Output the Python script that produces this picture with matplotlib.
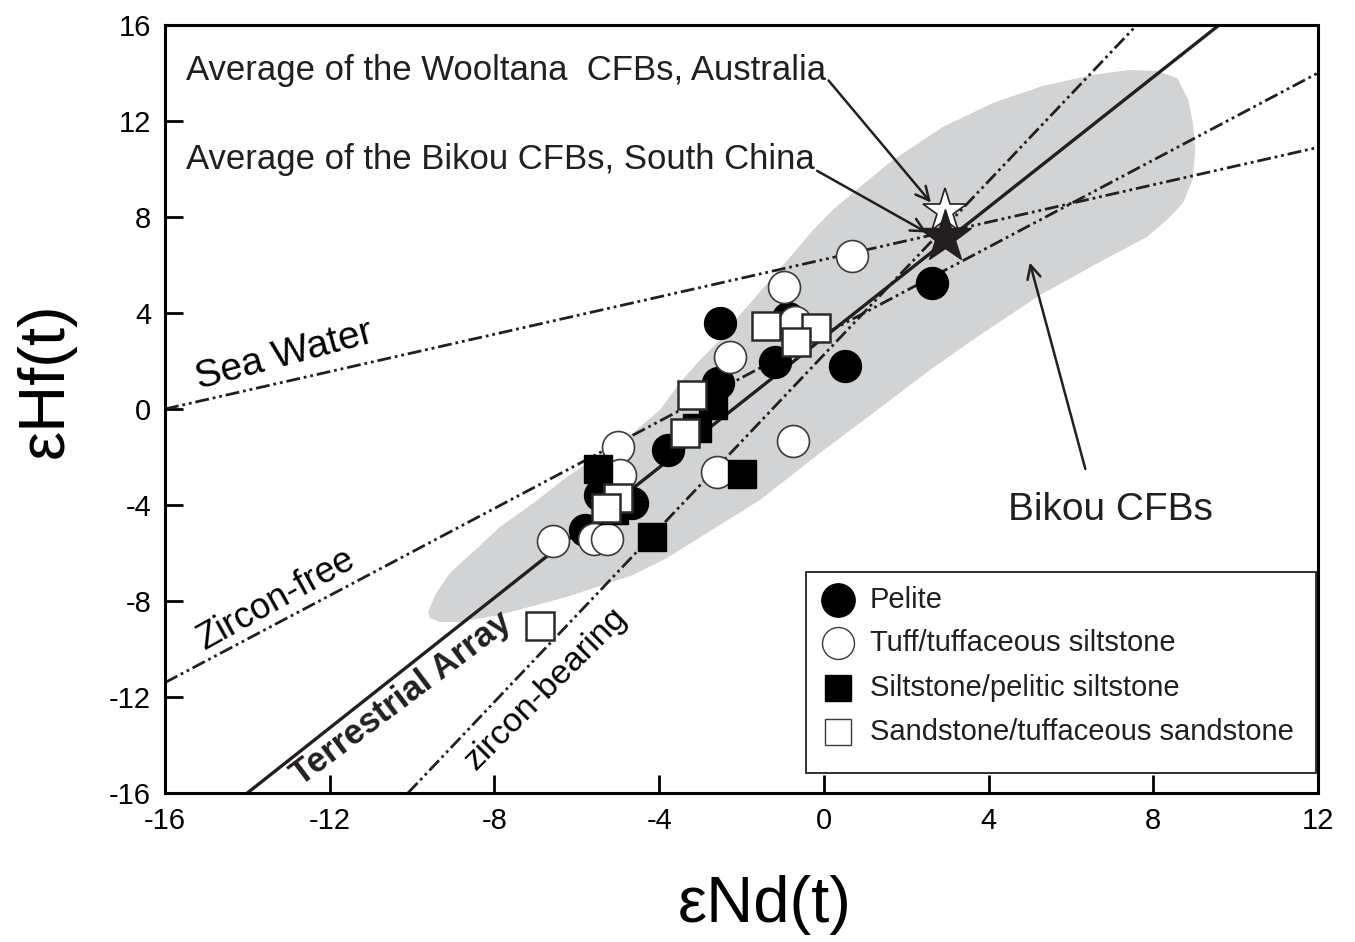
import matplotlib
matplotlib.use("Agg")
import matplotlib.pyplot as plt
from matplotlib.patches import Polygon, Rectangle

plt.rcParams["font.family"] = ["Liberation Sans", "DejaVu Sans"]
plt.rcParams["axes.unicode_minus"] = False

# ---- sample data: eNd(t), eHf(t) ----
pelite_nd = [2.63, 0.51, -2.52, -0.87, -1.19, -2.57, -3.78, -5.44, -4.66, -5.80]
pelite_hf = [5.25, 1.79, 3.58, 3.79, 1.96, 1.08, -1.71, -3.58, -3.92, -5.04]

tuff_nd = [0.68, -0.97, -0.70, -2.28, -0.75, -2.59, -5.00, -4.95, -6.58, -5.58, -5.26]
tuff_hf = [6.38, 5.08, 3.63, 2.17, -1.33, -2.62, -1.58, -2.75, -5.50, -5.42, -5.42]

silt_nd = [-2.69, -3.08, -5.48, -5.09, -4.17, -1.99]
silt_hf = [0.17, -0.79, -2.50, -4.21, -5.33, -2.71]

sand_nd = [-1.41, -0.19, -0.68, -3.20, -3.37, -5.00, -5.29, -6.89]
sand_hf = [3.46, 3.38, 2.79, 0.58, -1.00, -3.71, -4.13, -9.04]

# reference averages
wooltana_avg = (2.94, 8.25)
bikou_avg = (2.95, 7.15)

# reference arrays (end points)
sea_water_x, sea_water_y = [-16, 12], [0, 10.9]
zircon_free_x, zircon_free_y = [-16, 12], [-11.4, 14.0]
terrestrial_x, terrestrial_y = [-14.0, 9.6], [-16, 16]
zircon_bearing_x, zircon_bearing_y = [-10.1, 7.6], [-16, 16]

# Bikou CFBs field outline
field_nd = [-9.61, -9.44, -9.08, -8.47, -7.87, -7.02, -6.24, -5.44, -4.64, -3.98,
            -3.50, -3.01, -2.45, -2.04, -1.72, -1.31, -0.82, -0.26, 0.27, 0.88,
            1.68, 2.89, 4.11, 5.32, 6.53, 7.43, 8.09, 8.58, 8.85, 8.97,
            9.02, 8.95, 8.72, 8.33, 7.85, 6.71, 5.25, 3.79, 2.58, 1.36,
            -0.09, -1.55, -2.84, -3.81, -4.64, -6.24, -7.87, -8.84, -9.32, -9.57]
field_hf = [-8.46, -7.75, -6.83, -5.88, -4.92, -3.88, -2.83, -1.92, -1.00, -0.04,
            1.08, 2.04, 3.00, 3.92, 4.54, 5.38, 6.33, 7.46, 8.38, 9.25,
            10.38, 11.75, 12.75, 13.46, 13.92, 14.13, 14.08, 13.79, 12.88, 11.83,
            10.79, 9.54, 8.58, 7.88, 7.17, 6.13, 4.75, 3.08, 1.63, 0.04,
            -1.83, -3.79, -5.17, -6.21, -6.92, -7.83, -8.58, -8.88, -8.88, -8.71]

x_ticks = list(range(-16, 13, 4))
y_ticks = list(range(-16, 17, 4))

fig = plt.figure(figsize=(13.55, 9.42), dpi=100)
ax = fig.add_axes([0.1218, 0.1582, 0.8509, 0.8153])

ax.add_patch(Polygon(list(zip(field_nd, field_hf)), closed=True,
                     facecolor="#d2d3d5", edgecolor="none", zorder=1))

ddot = (5, 1.4, 1, 1.4, 1, 1.4)
for xs, ys in [(sea_water_x, sea_water_y), (zircon_free_x, zircon_free_y),
               (zircon_bearing_x, zircon_bearing_y)]:
    ax.plot(xs, ys, color="#231f20", lw=2.0, dashes=ddot, zorder=2)
ax.plot(terrestrial_x, terrestrial_y, color="#231f20", lw=2.4, zorder=2)

ax.plot(pelite_nd, pelite_hf, "o", ms=23, mfc="black", mec="black", mew=1, zorder=3)
ax.plot(tuff_nd, tuff_hf, "o", ms=23, mfc="white", mec="#3a3a3a", mew=1.2, zorder=4)
ax.plot(silt_nd, silt_hf, "s", ms=20, mfc="black", mec="black", mew=1, zorder=5)
ax.plot(sand_nd, sand_hf, "s", ms=19.5, mfc="white", mec="#2a2a2a", mew=1.8, zorder=6)

ax.plot(*wooltana_avg, "*", ms=33, mfc="white", mec="#231f20", mew=1.2, zorder=7)
ax.plot(*bikou_avg, "*", ms=40, mfc="#231f20", mec="#231f20", zorder=8)

# line labels
ax.text(-13.1, 2.2, "Sea Water", fontsize=28, rotation=15,
        ha="center", va="center", rotation_mode="anchor", zorder=9)
ax.text(-13.3, -7.95, "Zircon-free", fontsize=26, rotation=29,
        ha="center", va="center", rotation_mode="anchor", zorder=9)
ax.text(-10.25, -12.05, "Terrestrial Array", fontsize=25, fontweight="bold", rotation=37,
        ha="center", va="center", rotation_mode="anchor", color="#231f20", zorder=9)
ax.text(-6.75, -11.65, "zircon-bearing", fontsize=24.5, rotation=45,
        ha="center", va="center", rotation_mode="anchor", zorder=9)

# annotations
arrow = dict(arrowstyle="->", color="#231f20", lw=1.8, mutation_scale=24, shrinkA=0, shrinkB=0)
ax.annotate("Average of the Wooltana  CFBs, Australia", xy=(2.6, 8.6), xytext=(-15.5, 14.1),
            fontsize=25, va="center", ha="left", color="#231f20", zorder=9,
            arrowprops=dict(arrow, relpos=(1.0, 0.3)))
ax.annotate("Average of the Bikou CFBs, South China", xy=(2.5, 7.35), xytext=(-15.5, 10.4),
            fontsize=25, va="center", ha="left", color="#231f20", zorder=9,
            arrowprops=dict(arrow, relpos=(1.0, 0.2)))
ax.annotate("", xy=(5.0, 6.1), xytext=(6.35, -2.5), arrowprops=arrow, zorder=9)
ax.text(6.95, -4.2, "Bikou CFBs", fontsize=28, ha="center", va="center", color="#231f20")

# legend box
ax.add_patch(Rectangle((0.556, 0.026), 0.442, 0.262, transform=ax.transAxes,
                       facecolor="white", edgecolor="#231f20", lw=1.3, zorder=10))
legend_items = [
    ("o", "black", "black", 24, "Pelite", 0.2513),
    ("o", "white", "#3a3a3a", 23, "Tuff/tuffaceous siltstone", 0.1953),
    ("s", "black", "black", 19, "Siltstone/pelitic siltstone", 0.1367),
    ("s", "white", "#3a3a3a", 19, "Sandstone/tuffaceous sandstone", 0.0794),
]
for marker, fc, ec, size, label, yy in legend_items:
    ax.plot([0.584], [yy], marker, ms=size, mfc=fc, mec=ec, mew=1.0,
            transform=ax.transAxes, zorder=11, clip_on=False)
    ax.text(0.611, yy, label, fontsize=21, ha="left", va="center",
            transform=ax.transAxes, zorder=11, color="#231f20")

ax.set_xlim(-16, 12)
ax.set_ylim(-16, 16)
ax.set_xticks(x_ticks)
ax.set_yticks(y_ticks)
ax.tick_params(direction="in", length=13, width=2, labelsize=21, pad=10,
               top=False, right=False)
for sp in ax.spines.values():
    sp.set_linewidth(2.2)

fig.text(0.5646, 0.039, "\u03b5Nd(t)", fontsize=47, ha="center", va="center")
fig.text(0.034, 0.5966, "\u03b5Hf(t)", fontsize=47, ha="center", va="center", rotation=90)

fig.savefig("out.png", dpi=100)
